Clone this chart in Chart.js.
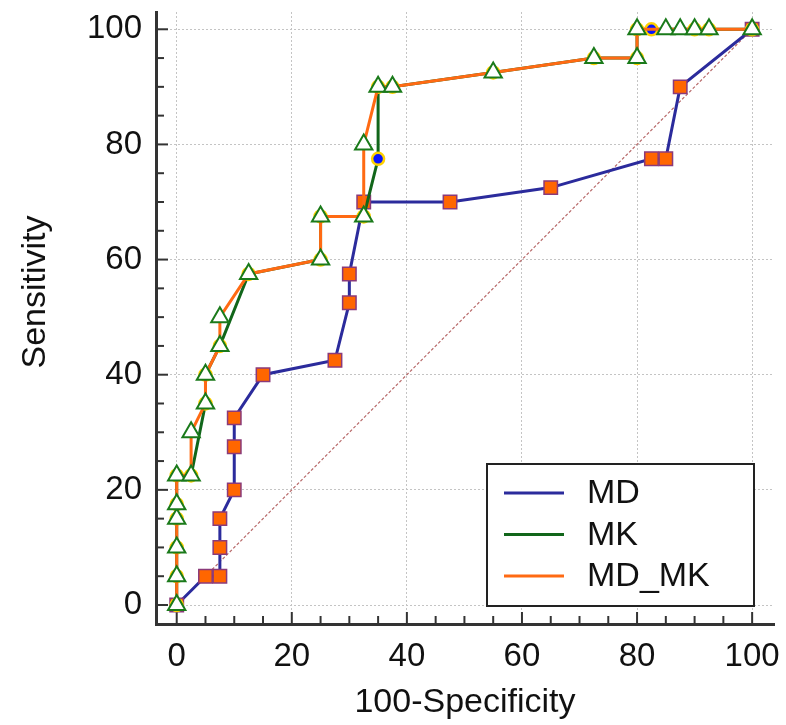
<!DOCTYPE html>
<html>
<head>
<meta charset="utf-8">
<script src="https://cdn.jsdelivr.net/npm/chart.js@4.4.0/dist/chart.umd.min.js"></script>
<style>
html, body { margin: 0; padding: 0; background: #fff; }
</style>
</head>
<body>
<canvas id="roc" width="786" height="725"></canvas>
<script>
// tick labels (both axes)
const tickValues = [0, 20, 40, 60, 80, 100];

// MD
const mdX = [0, 5, 7.5, 7.5, 7.5, 10, 10, 10, 15, 27.5, 30, 30, 32.5, 47.5, 65, 82.5, 85, 87.5, 100];
const mdY = [0, 5, 5, 10, 15, 20, 27.5, 32.5, 40, 42.5, 52.5, 57.5, 70, 70, 72.5, 77.5, 77.5, 90, 100];

// MK
const mkX = [0, 0, 0, 0, 0, 0, 2.5, 5, 5, 7.5, 12.5, 25, 25, 32.5, 35, 35, 37.5, 55, 72.5, 80, 80, 82.5, 90, 92.5, 100];
const mkY = [0, 5, 10, 15, 17.5, 22.5, 22.5, 35, 40, 45, 57.5, 60, 67.5, 67.5, 77.5, 90, 90, 92.5, 95, 95, 100, 100, 100, 100, 100];

// MD_MK
const mdmkX = [0, 0, 0, 0, 0, 0, 2.5, 2.5, 5, 5, 7.5, 7.5, 12.5, 25, 25, 32.5, 32.5, 35, 37.5, 55, 72.5, 80, 80, 85, 87.5, 90, 92.5, 100];
const mdmkY = [0, 5, 10, 15, 17.5, 22.5, 22.5, 30, 35, 40, 45, 50, 57.5, 60, 67.5, 67.5, 80, 90, 90, 92.5, 95, 95, 100, 100, 100, 100, 100, 100];

// reference diagonal
const diagX = [0, 100];
const diagY = [0, 100];

const pts = (xs, ys) => xs.map((x, i) => ({x: x, y: ys[i]}));

const FONT = "'Liberation Sans', Arial, sans-serif";

// little ticks pointing into the plot
const innerTicks = {
    id: 'innerTicks',
    beforeDatasetsDraw(chart) {
        const {ctx, chartArea: a, scales: {x, y}} = chart;
        ctx.save();
        ctx.strokeStyle = "#333";
        ctx.lineWidth = 2;
        for (let v = 0; v <= 100; v += 5) {
            const len = v % 20 === 0 ? 12 : 8;
            const px = x.getPixelForValue(v);
            ctx.beginPath();
            ctx.moveTo(px, a.bottom);
            ctx.lineTo(px, a.bottom - len);
            ctx.stroke();
            const py = y.getPixelForValue(v);
            ctx.beginPath();
            ctx.moveTo(a.left, py);
            ctx.lineTo(a.left + len, py);
            ctx.stroke();
        }
        ctx.restore();
    }
};

// y title sits a bit above the middle in the original
const yTitle = {
    id: 'yTitle',
    afterDraw(chart) {
        const {ctx, chartArea: a} = chart;
        ctx.save();
        ctx.translate(36, a.top + 280);
        ctx.rotate(-Math.PI / 2);
        ctx.fillStyle = "#111";
        ctx.font = "34px " + FONT;
        ctx.textAlign = "center";
        ctx.textBaseline = "middle";
        ctx.fillText("Sensitivity", 0, 0);
        ctx.restore();
    }
};

// boxed legend in the lower right corner
const boxLegend = {
    id: 'boxLegend',
    afterDraw(chart) {
        const {ctx, chartArea: a} = chart;
        const x0 = a.right - 287, y0 = a.bottom - 160, w = 267, h = 142;
        ctx.save();
        ctx.fillStyle = "#fff";
        ctx.fillRect(x0, y0, w, h);
        ctx.strokeStyle = "#222";
        ctx.lineWidth = 2;
        ctx.strokeRect(x0, y0, w, h);
        const items = chart.data.datasets.filter(d => d.label);
        items.forEach((d, i) => {
            const ly = y0 + 29 + i * 41.5;
            ctx.strokeStyle = d.borderColor;
            ctx.lineWidth = 3;
            ctx.beginPath();
            ctx.moveTo(x0 + 17, ly);
            ctx.lineTo(x0 + 77, ly);
            ctx.stroke();
            ctx.fillStyle = "#111";
            ctx.font = "34px " + FONT;
            ctx.textBaseline = "middle";
            ctx.fillText(d.label, x0 + 100, ly + 1);
        });
        ctx.restore();
    }
};

const data = {
    datasets: [
        {
            label: "MD",
            data: pts(mdX, mdY),
            showLine: true,
            borderColor: "#2b2b9c",
            borderWidth: 3,
            pointStyle: "rect",
            pointRadius: 9.5,
            pointBackgroundColor: "#ff6600",
            pointBorderColor: "#8a3a7a",
            pointBorderWidth: 1.5,
            order: 2
        },
        {
            label: "MK",
            data: pts(mkX, mkY),
            showLine: true,
            borderColor: "#11661a",
            borderWidth: 3,
            pointStyle: "circle",
            pointRadius: 6,
            pointBackgroundColor: "#0a14ff",
            pointBorderColor: "#ffd200",
            pointBorderWidth: 2.5,
            order: 1
        },
        {
            label: "MD_MK",
            data: pts(mdmkX, mdmkY),
            showLine: true,
            borderColor: "#ff6a13",
            borderWidth: 3,
            pointStyle: "triangle",
            pointRadius: 10,
            pointBackgroundColor: "#ffffff",
            pointBorderColor: "#1a7a1a",
            pointBorderWidth: 2,
            order: 0
        },
        {
            label: "",
            data: pts(diagX, diagY),
            showLine: true,
            borderColor: "#b86a6a",
            borderWidth: 1.2,
            borderDash: [3, 2],
            pointRadius: 0,
            order: 3
        }
    ]
};

const config = {
    type: 'scatter',
    data: data,
    options: {
        responsive: false,
        animation: false,
        devicePixelRatio: 1,
        layout: {padding: {left: 0, right: 10, top: 10, bottom: 0}},
        plugins: {
            legend: {display: false},
            tooltip: {enabled: false}
        },
        scales: {
            x: {
                type: 'linear',
                min: -3.6,
                max: 103.8,
                afterBuildTicks: s => { s.ticks = tickValues.map(v => ({value: v})); },
                afterFit: s => { s.height = 101; s.paddingLeft = 0; s.paddingRight = 0; },
                grid: {color: "#c4c4c4", lineWidth: 1, drawTicks: false},
                border: {display: true, color: "#333", width: 3, dash: [2, 2]},
                ticks: {font: {family: FONT, size: 33}, color: "#111", padding: 13},
                title: {display: true, text: "100-Specificity", font: {family: FONT, size: 34}, color: "#111", padding: {top: 0, bottom: 2}}
            },
            y: {
                type: 'linear',
                min: -3.3,
                max: 103,
                afterBuildTicks: s => { s.ticks = tickValues.map(v => ({value: v})); },
                afterFit: s => { s.width = 156; s.paddingTop = 0; s.paddingBottom = 0; },
                grid: {color: "#c4c4c4", lineWidth: 1, drawTicks: false},
                border: {display: true, color: "#333", width: 3, dash: [2, 2]},
                ticks: {font: {family: FONT, size: 33}, color: "#111", padding: 14},
                title: {display: false}
            }
        }
    },
    plugins: [innerTicks, yTitle, boxLegend]
};

const rocChart = new Chart(document.getElementById('roc'), config);
</script>
</body>
</html>
